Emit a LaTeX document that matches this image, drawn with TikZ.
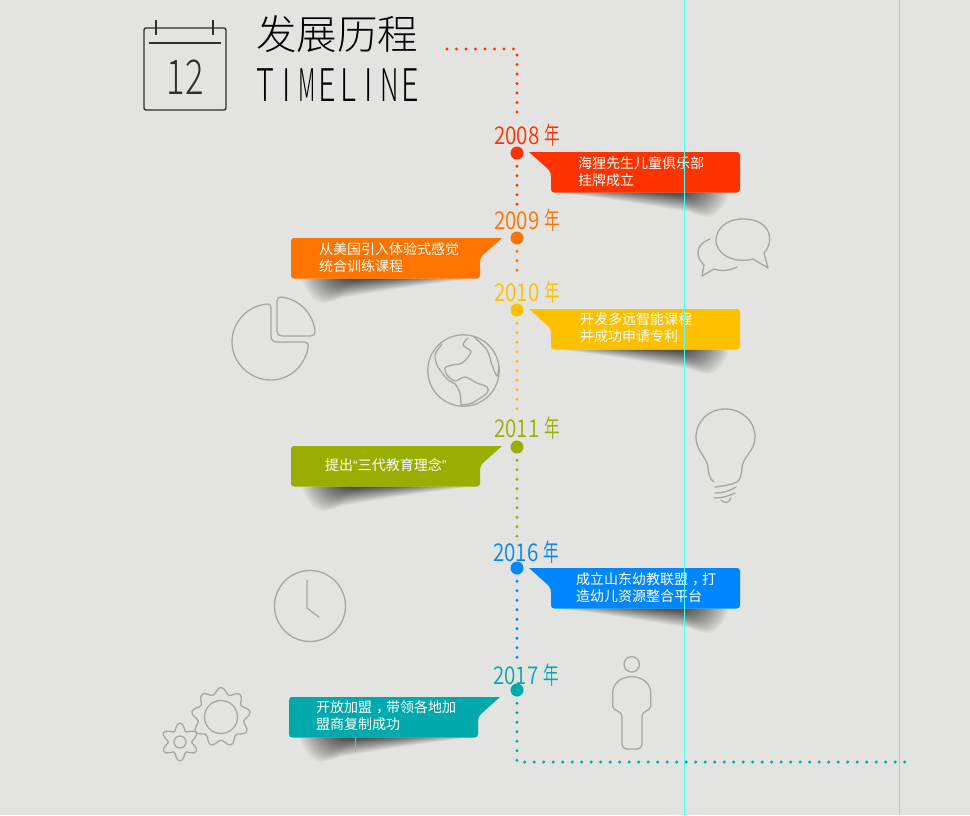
\documentclass[tikz,border=0pt]{standalone}
\usepackage{fontspec}
\setmainfont{Noto Sans CJK SC}
\newfontfamily\titlefont{Noto Sans CJK SC Light}
\newfontfamily\yearfont[FakeStretch=0.84]{Noto Sans CJK SC DemiLight}
\newfontfamily\linefont[FakeStretch=0.68]{Noto Sans CJK SC Light}
\newfontfamily\quotefont{Liberation Sans}
\definecolor{pagegray}{HTML}{E3E3E1}
\definecolor{icongray}{HTML}{A6A6A6}
\definecolor{inkgray}{HTML}{2F2F2F}
\definecolor{redtone}{HTML}{FF3300}
\definecolor{orangetone}{HTML}{FF7300}
\definecolor{yellowtone}{HTML}{FFC000}
\definecolor{greentone}{HTML}{99AE00}
\definecolor{bluetone}{HTML}{0087FF}
\definecolor{tealtone}{HTML}{00A9AC}
\definecolor{guidecyan}{HTML}{4DFFFF}
\definecolor{guidegray}{HTML}{C2C2C2}
\newcommand{\yeartext}[1]{#1 \scalebox{0.76}[1]{年}}
\newcommand{\widecomma}{\makebox[14pt][l]{\hspace{4pt}，}}
\newcommand{\cellletter}[2][1]{\makebox[20.6pt]{\scalebox{#1}[1]{#2}}}
\tikzset{
  yeardot/.style={circle,inner sep=0pt,minimum size=13pt},
  yearlabel/.style={font=\yearfont\fontsize{24.5}{24.5}\selectfont,inner sep=0pt,outer sep=4pt},
  dotline/.style={line width=3.4pt,line cap=round,dash pattern=on 0pt off 9.5pt},
  dotfromdot/.style={dotline,dash phase=3pt},
  bannertext/.style={font=\fontsize{14}{17}\selectfont,text=white,align=left,anchor=west,inner sep=0pt},
  icon/.style={draw=icongray,line width=1.3pt,line cap=round,line join=round},
  guide/.style={line width=1pt},
  pics/banner/.style={code={
    % soft shadow under the far end
    \foreach \s in {1,0.97,...,0.05} {
      \pgfmathsetmacro{\h}{pow(\s,1.5)}
      \fill[black,opacity=0.03] ({110-104*\s},40.5)
        .. controls ({112-52*\s},{40.5+6*\h}) and ({114-4*\s},{40.5+15*\h}) .. ({115+24*\s},{40.5+19.5*\h})
        .. controls ({118+29*\s},{40.5+23*\h}) and ({120+33*\s},{40.5+24.5*\h}) .. ({122+37*\s},{40.5+24.5*\h})
        .. controls ({124+44*\s},{40.5+22*\h}) and ({126+50*\s},{40.5+10*\h}) .. ({128+50*\s},40.5) -- cycle;
    }
    \fill[#1] (-22,0) -- (-3,17) [rounded corners=3pt] -- (0,21) -- (0,40.5) -- (189,40.5) -- (189,0) [sharp corners] -- cycle;
  }},
}
\begin{document}
\begin{tikzpicture}[x=1pt,y=-1pt]
\useasboundingbox (0,0) rectangle (970,815);
\fill[pagegray] (0,0) rectangle (970,815);

% Heading
\draw[inkgray,line width=1.4pt,rounded corners=2pt] (144,28) rectangle (226,110);
\draw[inkgray,line width=1.2pt] (156,20) -- (156,35) (213,20) -- (213,35) (149,43) -- (221,43);
\node[font=\titlefont\fontsize{48}{48}\selectfont,xscale=0.72,text=inkgray,inner sep=0pt] (calnum) at (185,77) {12};
\node[font=\titlefont\fontsize{40.5}{40.5}\selectfont,text=black,inner sep=0pt] (titlecn) at (337,34) {发展历程};
\node[font=\linefont\fontsize{45}{45}\selectfont,text=black,inner sep=0pt] (titleen) at (338,85) {\cellletter{T}\cellletter{I}\cellletter[0.72]{M}\cellletter{E}\cellletter{L}\cellletter{I}\cellletter[0.85]{N}\cellletter{E}};

% Banners with their shadows
\pic (ban2008) at (551,152) {banner=redtone};
\pic[xscale=-1] (ban2009) at (480,238) {banner=orangetone};
\pic (ban2010) at (551,309) {banner=yellowtone};
\pic[xscale=-1] (ban2011) at (480,446) {banner=greentone};
\pic (ban2016) at (551,568) {banner=bluetone};
\pic[xscale=-1] (ban2017) at (478,697) {banner=tealtone};
\draw[icongray,line width=0.6pt] (355,737) -- (355,752);

\node[bannertext] (txt2008) at (578,171.5) {海狸先生儿童俱乐部\\挂牌成立};
\node[bannertext] (txt2009) at (319,258) {从美国引入体验式感觉\\统合训练课程};
\node[bannertext] (txt2010) at (580,327.5) {开发多远智能课程\\并成功申请专利};
\node[bannertext] (txt2011) at (325,465) {提出{\quotefont“}三代教育理念{\quotefont”}};
\node[bannertext] (txt2016) at (576,587.5) {成立山东幼教联盟\widecomma 打\\造幼儿资源整合平台};
\node[bannertext] (txt2017) at (316,716) {开放加盟\widecomma 带领各地加\\盟商复制成功};

% Years
\node[yearlabel,text=redtone] (year2008) at (527,135) {\yeartext{2008}};
\node[yearlabel,text=orangetone] (year2009) at (527,220) {\yeartext{2009}};
\node[yearlabel,text=yellowtone] (year2010) at (527,292) {\yeartext{2010}};
\node[yearlabel,text=greentone] (year2011) at (527,428) {\yeartext{2011}};
\node[yearlabel,text=bluetone] (year2016) at (526,552) {\yeartext{2016}};
\node[yearlabel,text=tealtone] (year2017) at (526,675) {\yeartext{2017}};

\node[yeardot,fill=redtone] (dot2008) at (517,153) {};
\node[yeardot,fill=orangetone] (dot2009) at (517,238) {};
\node[yeardot,fill=yellowtone] (dot2010) at (517,310) {};
\node[yeardot,fill=greentone] (dot2011) at (517,447) {};
\node[yeardot,fill=bluetone] (dot2016) at (517,568) {};
\node[yeardot,fill=tealtone] (dot2017) at (517,690) {};

% Dotted spine
\coordinate (spinestart) at (447,49);
\coordinate (spinecorner) at (517,49);
\coordinate (greenend) at (517,537);
\coordinate (spinelow) at (517,762);
\coordinate (spineend) at (908,762);
\draw[dotline,redtone] (spinestart) -- (spinecorner) -- (spinecorner |- year2008.north);
\draw[dotfromdot,redtone] (dot2008) -- (dot2008 |- year2009.north);
\draw[dotfromdot,orangetone] (dot2009) -- (dot2009 |- year2010.north);
\draw[dotfromdot,yellowtone] (dot2010) -- (dot2010 |- year2011.north);
\draw[dotfromdot,greentone] (dot2011) -- (greenend);
\draw[dotfromdot,bluetone] (dot2016) -- (dot2016 |- year2017.north);
\draw[dotfromdot,tealtone] (dot2017) -- (spinelow) -- (spineend);

% Speech bubbles
\draw[icon] (764,253) .. controls (775,241) and (771,219) .. (743,219) .. controls (724,219) and (716,231) .. (716,240)
  .. controls (716,255) and (735,264) .. (753,259) -- (768,268) -- cycle;
\draw[icon] (710,239) .. controls (700,243) and (698,248) .. (698,253) .. controls (698,258) and (701,262) .. (704,265)
  -- (702,276) -- (714,269) .. controls (722,272) and (731,270) .. (737,267);

% Pie chart
\draw[icon] (268,304) .. controls (270,304) and (271,306) .. (271,308) -- (271,336) .. controls (271,340) and (273,342) .. (277,342)
  -- (304,342) .. controls (308,342) and (309,345) .. (308,348) .. controls (304,368) and (288,380) .. (271,380)
  .. controls (250,380) and (232,363) .. (232,342) .. controls (232,322) and (248,305) .. (268,304) -- cycle;
\draw[icon] (277,301) .. controls (277,298) and (279,297) .. (281,297) .. controls (299,299) and (313,313) .. (315,331)
  .. controls (315,334) and (314,336) .. (311,336) -- (282,336) .. controls (279,336) and (277,334) .. (277,331) -- cycle;

% Globe
\draw[icon] (463.5,370.5) circle (35.7);
\draw[icon] plot[smooth] coordinates {(442,344) (435,355) (438,367) (448,380) (455,384) (460,393) (461,405)};
\draw[icon] plot[smooth] coordinates {(468,338) (463,345) (471,352) (462,363) (452,365) (445,368) (447,375) (455,381) (465,377) (477,383) (487,387) (487,393) (472,403) (461,405)};
\draw[icon] plot[smooth] coordinates {(473,336) (487,350) (492,365) (497,376) (499,367)};

% Light bulb
\draw[icon] (714,482) .. controls (706,476) and (710,468) .. (706,461) .. controls (702,453) and (696,448) .. (696,437)
  .. controls (696,421) and (709,409) .. (725,409) .. controls (742,409) and (755,421) .. (755,437)
  .. controls (755,448) and (748,453) .. (744,461) .. controls (740,468) and (744,476) .. (737,482) .. controls (731,485) and (723,486) .. (715,487);
\draw[icon] (715,493) .. controls (723,493) and (730,491) .. (736,487);
\draw[icon] (714,498) .. controls (722,498) and (729,496) .. (735,493);
\draw[icon] (721,500) .. controls (723,503) and (729,504) .. (731,498);

% Clock
\draw[icon] (310,606) circle (35.5);
\draw[icon] (307,580) -- (307,608) -- (319,617);

% Gears
\draw[icon] (221,717) circle (16.5);
\draw[icon,shift={(221,717)}] plot[smooth cycle,domain=0:355,samples=72] (\x-90:{26.3+3.2*cos(9*\x)});
\draw[icon] (180,742) circle (6);
\draw[icon,shift={(180,742)}] plot[smooth cycle,domain=0:352.5,samples=48] (\x-90:{15.3+3.6*cos(6*\x)});

% Person
\draw[icon] (631.7,664.3) circle (7.7);
\draw[icon] (631.7,676.7) .. controls (620,676.7) and (612.7,684) .. (612.7,693) -- (612.7,706) .. controls (612.7,712) and (622,709) .. (622,718)
  -- (622,743) .. controls (622,747) and (624,749) .. (628,749) -- (636,749) .. controls (640,749) and (642,747) .. (642,743)
  -- (642,718) .. controls (642,709) and (650.7,712) .. (650.7,706) -- (650.7,693) .. controls (650.7,684) and (643,676.7) .. (631.7,676.7) -- cycle;

% Guides on top
\coordinate (cyantop) at (684.5,0);
\coordinate (cyanlow) at (684.5,815);
\coordinate (graytop) at (899.5,0);
\coordinate (graylow) at (899.5,815);
\draw[guide,guidecyan] (cyantop) -- (cyanlow);
\draw[guide,guidegray] (graytop) -- (graylow);
\end{tikzpicture}
\end{document}
